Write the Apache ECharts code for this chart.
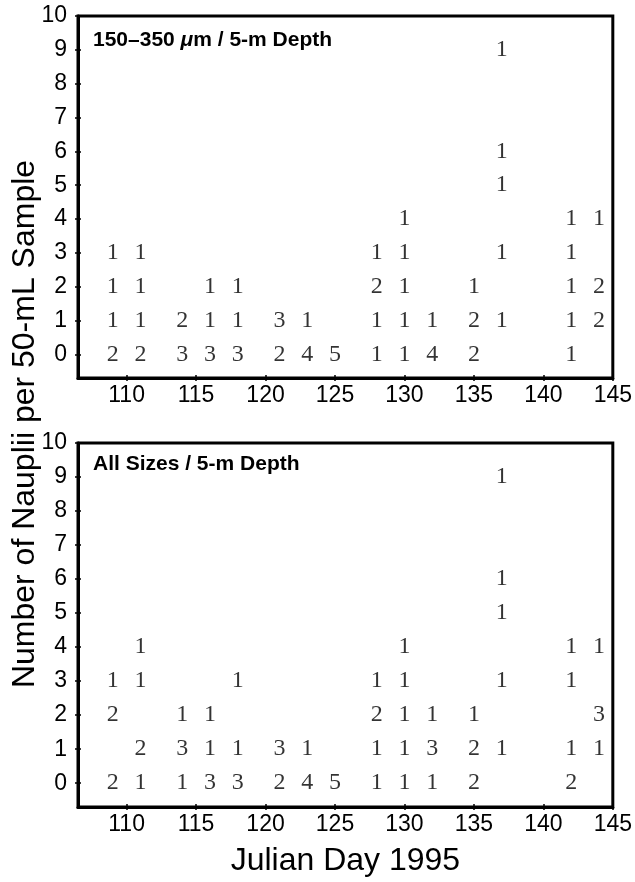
<!DOCTYPE html>
<html>
<head>
<meta charset="utf-8">
<script src="https://cdn.jsdelivr.net/npm/echarts@6/dist/echarts.min.js"></script>
<style>
  html, body { margin: 0; padding: 0; background: #fff; }
  #main { width: 635px; height: 882px; }
</style>
</head>
<body>
<div id="main"></div>
<script>
// julian days that were sampled
var days = [109, 111, 114, 116, 118, 121, 123, 125, 128, 130, 132, 135, 137, 142, 144];

// for each day: number of samples (index = nauplii per 50 mL), 0 = none
var topCounts = [
  [2, 1, 1, 1],
  [2, 1, 1, 1],
  [3, 2],
  [3, 1, 1],
  [3, 1, 1],
  [2, 3],
  [4, 1],
  [5],
  [1, 1, 2, 1],
  [1, 1, 1, 1, 1],
  [4, 1],
  [2, 2, 1],
  [0, 1, 0, 1, 0, 1, 1, 0, 0, 1],
  [1, 1, 1, 1, 1],
  [0, 2, 2, 0, 1]
];
var bottomCounts = [
  [2, 0, 2, 1],
  [1, 2, 0, 1, 1],
  [1, 3, 1],
  [3, 1, 1],
  [3, 1, 0, 1],
  [2, 3],
  [4, 1],
  [5],
  [1, 1, 2, 1],
  [1, 1, 1, 1, 1],
  [1, 3, 1],
  [2, 2, 1],
  [0, 1, 0, 1, 0, 1, 1, 0, 0, 1],
  [2, 1, 0, 1, 1],
  [0, 1, 3, 0, 1]
];

var xTicks = [110, 115, 120, 125, 130, 135, 140, 145];
var yTicks = [0, 1, 2, 3, 4, 5, 6, 7, 8, 9, 10];
var panelTitles = ['150–350 ', 'All Sizes / 5-m Depth'];

function toPoints(counts) {
  var pts = [];
  for (var i = 0; i < days.length; i++) {
    for (var n = 0; n < counts[i].length; n++) {
      if (counts[i][n] > 0) pts.push([days[i], n, counts[i][n]]);
    }
  }
  return pts;
}

var sans = 'Liberation Sans, Arial, sans-serif';
var grids = [
  { left: 78, right: 21, top: 16, height: 362 },
  { left: 78, right: 21, top: 443, height: 364 }
];

var xAxes = [], yAxes = [];
grids.forEach(function (g, i) {
  g.show = true;
  g.borderColor = '#000';
  g.borderWidth = 3;
  // main axes: labels + outside ticks
  xAxes.push({
    type: 'value', gridIndex: i, min: 106.5, max: 145, position: 'bottom',
    splitLine: { show: false },
    axisLine: { onZero: false, lineStyle: { color: '#000', width: 3 } },
    axisTick: { length: 3, customValues: xTicks, lineStyle: { color: '#000', width: 1.5 } },
    axisLabel: { customValues: xTicks, color: '#000', fontFamily: sans, fontSize: 23, margin: 6 },
    name: i === 1 ? 'Julian Day 1995' : '',
    nameLocation: 'middle', nameGap: 38,
    nameTextStyle: { color: '#000', fontFamily: sans, fontSize: 32, verticalAlign: 'top' }
  });
  yAxes.push({
    type: 'value', gridIndex: i, min: -0.7, max: 10,
    splitLine: { show: false },
    axisLine: { show: true, onZero: false, lineStyle: { color: '#000', width: 3 } },
    axisTick: { show: true, length: 3, customValues: yTicks, lineStyle: { color: '#000', width: 1.5 } },
    axisLabel: { customValues: yTicks, color: '#000', fontFamily: sans, fontSize: 23, margin: 11 }
  });
});
// second copies for the inside half of the crossing ticks
grids.forEach(function (g, i) {
  xAxes.push({
    type: 'value', gridIndex: i, min: 106.5, max: 145, position: 'bottom',
    splitLine: { show: false }, axisLine: { show: false, onZero: false }, axisLabel: { show: false },
    axisTick: { inside: true, length: 3, customValues: xTicks, lineStyle: { color: '#000', width: 1.5 } }
  });
  yAxes.push({
    type: 'value', gridIndex: i, min: -0.7, max: 10, position: 'left',
    splitLine: { show: false }, axisLine: { show: false, onZero: false }, axisLabel: { show: false },
    axisTick: { show: true, inside: true, length: 3, customValues: yTicks, lineStyle: { color: '#000', width: 1.5 } }
  });
});

function countSeries(counts, i) {
  return {
    type: 'scatter', xAxisIndex: i, yAxisIndex: i,
    symbolSize: 1,
    itemStyle: { color: 'rgba(0,0,0,0)' },
    silent: true,
    label: {
      show: true, position: 'inside',
      formatter: function (p) { return String(p.value[2]); },
      color: '#000', fontFamily: 'Liberation Serif, Times New Roman, serif', fontSize: 24
    },
    data: toPoints(counts)
  };
}

var titleRich = {
  b: { fontFamily: sans, fontWeight: 'bold', fontSize: 21, color: '#000' },
  i: { fontFamily: sans, fontWeight: 'bold', fontStyle: 'italic', fontSize: 21, color: '#000' }
};

var chart = echarts.init(document.getElementById('main'), null, { renderer: 'canvas' });
chart.setOption({
  backgroundColor: '#fff',
  animation: false,
  title: [
    { left: 93, top: 30, padding: 0,
      text: '{b|' + panelTitles[0] + '}{i|μ}{b|m / 5-m Depth}', textStyle: { rich: titleRich } },
    { left: 93, top: 454, padding: 0,
      text: '{b|' + panelTitles[1] + '}', textStyle: { rich: titleRich } }
  ],
  grid: grids,
  xAxis: xAxes,
  yAxis: yAxes,
  graphic: [{
    type: 'text', x: 25, y: 424, rotation: Math.PI / 2,
    style: {
      text: 'Number of Nauplii per 50-mL Sample',
      font: '32px ' + sans, fill: '#000',
      textAlign: 'center', textVerticalAlign: 'middle'
    }
  }],
  series: [countSeries(topCounts, 0), countSeries(bottomCounts, 1)]
});
</script>
</body>
</html>
